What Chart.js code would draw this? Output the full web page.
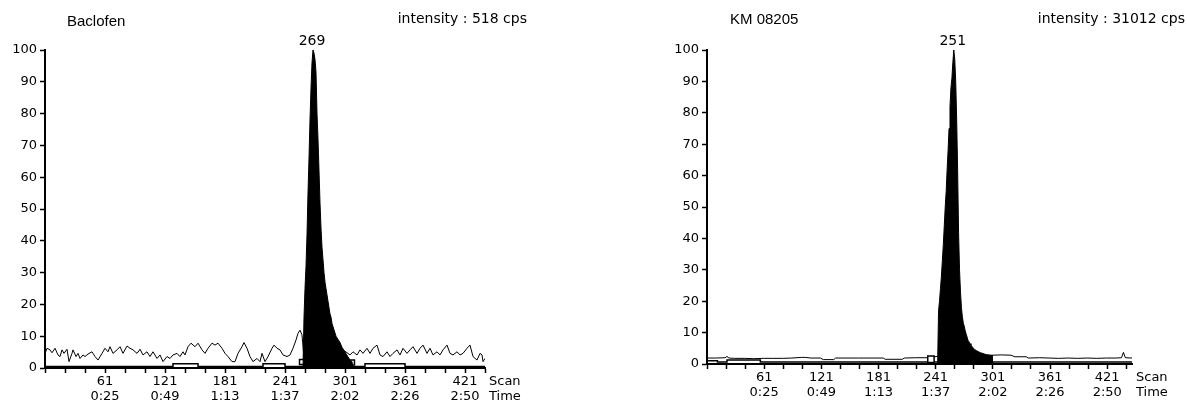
<!DOCTYPE html>
<html>
<head>
<meta charset="utf-8">
<script src="https://cdn.jsdelivr.net/npm/chart.js@4/dist/chart.umd.min.js"></script>
<style>
  body { margin: 0; background: #fff; }
  canvas { position: absolute; top: 0; }
  #bac { left: 0; }
  #km { left: 620px; }
</style>
</head>
<body>
<canvas id="bac" width="560" height="403"></canvas>
<canvas id="km" width="567" height="403"></canvas>
<script>
// x axis labels (scan number and retention time)
const tickScans = [61, 121, 181, 241, 301, 361, 421];
const tickTimes = ['0:25', '0:49', '1:13', '1:37', '2:02', '2:26', '2:50'];

// Baclofen - noisy trace
const bacNoiseScan = [1, 3, 6, 8, 11, 14, 16, 18, 20, 23, 25, 28, 29, 32, 34, 36, 39, 41, 44, 48, 49, 51, 54, 58, 61, 64, 66, 69, 73, 76, 79, 83, 86, 89, 93, 96, 99, 103, 106, 109, 113, 116, 119, 123, 126, 129, 133, 136, 139, 141, 144, 147, 151, 154, 158, 161, 164, 168, 171, 174, 178, 181, 184, 188, 191, 194, 198, 200, 203, 206, 209, 213, 216, 218, 221, 224, 228, 230, 233, 236, 239, 243, 246, 249, 252, 254, 256, 258, 260, 270, 280, 290, 300, 306, 309, 313, 316, 319, 323, 326, 329, 333, 336, 339, 343, 346, 349, 353, 356, 359, 363, 366, 369, 373, 376, 379, 383, 386, 389, 393, 396, 399, 403, 406, 409, 413, 416, 419, 423, 426, 429, 433, 436, 438, 439, 441];
const bacNoiseVal = [4.6, 6.2, 5.7, 4.8, 6.2, 4.1, 3.6, 5.7, 4.6, 5.9, 2.0, 4.6, 5.7, 3.6, 4.6, 3.0, 4.1, 3.6, 4.4, 5.1, 4.6, 3.6, 2.5, 4.6, 6.2, 5.1, 6.7, 4.6, 5.7, 6.7, 4.6, 6.9, 6.2, 5.7, 4.6, 5.9, 4.1, 5.1, 3.6, 5.1, 3.0, 4.1, 2.0, 3.6, 3.0, 4.1, 4.6, 3.6, 5.1, 4.1, 6.7, 7.8, 6.7, 7.8, 5.7, 4.6, 6.2, 7.8, 7.2, 7.8, 6.2, 4.6, 3.6, 2.0, 2.0, 4.6, 6.7, 8.0, 6.2, 3.6, 2.0, 3.0, 2.0, 4.6, 2.0, 3.6, 6.2, 7.2, 6.2, 5.7, 4.1, 3.6, 4.1, 6.2, 8.8, 10.9, 11.9, 10.4, 3.0, 4.0, 5.0, 5.0, 5.5, 4.1, 5.1, 4.1, 5.7, 4.6, 6.2, 4.6, 6.2, 7.2, 4.1, 3.6, 5.1, 3.6, 4.6, 5.7, 4.1, 6.2, 4.6, 5.7, 6.7, 4.6, 6.2, 7.2, 4.6, 6.2, 4.1, 5.1, 4.1, 5.7, 7.2, 4.6, 4.1, 5.1, 4.1, 4.6, 6.2, 7.2, 3.6, 2.5, 4.6, 4.1, 2.0, 3.0];

// Baclofen - integrated peak
const bacPeakScan = [259, 260, 261, 262, 263, 264, 265, 266, 267, 268, 269, 270, 271, 272, 273, 274, 275, 276, 277, 278, 279, 280, 281, 282, 283, 284, 285, 286, 287, 288, 289, 290, 292, 294, 296, 298, 300, 302, 304, 306, 308, 309];
const bacPeakVal = [0, 16, 25, 32, 42, 55, 66, 78, 88, 96, 100, 99, 97, 93, 80, 72, 62, 52, 44, 38, 34, 30, 27, 25, 23, 21, 19, 17, 16, 14, 13, 12, 10, 9, 8, 6.5, 5.5, 4.5, 3.5, 2.5, 2, 0];

// Baclofen - baseline and integration marks
const bacBaseScan = [1, 129, 129, 154, 154, 219, 219, 241, 241, 321, 321, 361, 361, 441];
const bacBaseVal = [0.5, 0.5, 1.3, 1.3, 0.5, 0.5, 1.3, 1.3, 0.5, 0.5, 1.3, 1.3, 0.5, 0.5];
const bacMarkScan = [258, 308];
const bacMarkVal = [1.9, 1.7];

// KM 08205 - flat trace
const kmNoiseScan = [1, 10, 20, 22, 24, 30, 40, 50, 60, 70, 80, 90, 100, 104, 110, 120, 123, 134, 136, 150, 160, 170, 186, 188, 206, 208, 220, 232, 240, 244, 300, 310, 320, 324, 336, 338, 350, 360, 370, 380, 390, 400, 410, 420, 430, 436, 438, 440, 447];
const kmNoiseVal = [1.9, 1.9, 2.0, 2.4, 1.9, 1.8, 1.8, 1.7, 1.8, 1.8, 1.8, 1.9, 2.1, 2.1, 1.9, 1.9, 1.4, 1.4, 1.9, 1.9, 1.9, 1.9, 1.9, 1.5, 1.5, 1.9, 2.0, 2.0, 2.3, 2.5, 2.8, 2.9, 2.8, 2.3, 2.3, 1.9, 2.0, 1.9, 1.8, 1.9, 1.8, 1.9, 1.8, 1.9, 1.9, 2.0, 3.7, 2.0, 1.9];

// KM 08205 - integrated peak
const kmPeakScan = [243, 244, 245, 246, 247, 248, 249, 250, 251, 252, 253, 254, 255, 256, 257, 258, 259, 260, 261, 262, 263, 264, 265, 266, 267, 268, 269, 270, 271, 272, 273, 274, 275, 276, 277, 278, 280, 282, 284, 286, 288, 290, 292, 294, 296, 298, 300, 301];
const kmPeakVal = [0, 17, 20, 24, 28, 33, 38, 44, 50, 55, 62, 68, 75, 82, 88, 91, 96, 100, 97, 90, 78, 62, 42, 30, 23, 18, 15, 13, 12, 10.5, 9.5, 8.5, 7.5, 7, 6.5, 6, 5.2, 4.6, 4.2, 3.9, 3.6, 3.4, 3.2, 3, 2.9, 2.8, 2.7, 0];

// KM 08205 - baseline and integration marks
const kmBaseScan = [1, 12, 12, 22, 22, 57, 57, 447];
const kmBaseVal = [1.0, 1.0, 0.6, 0.6, 1.3, 1.3, 0.6, 0.6];
const kmMarkScan = [236, 297];
const kmMarkVal = [1.5, 1.5];

function pts(xs, ys) {
    return xs.map((x, i) => ({ x: x, y: ys[i] }));
}

const textPlugin = {
    id: 'texts',
    afterDatasetsDraw(chart, args, opts) {
        const ctx = chart.ctx;
        const area = chart.chartArea;
        ctx.save();
        ctx.fillStyle = '#000';
        ctx.textBaseline = 'middle';

        ctx.font = '15px "Liberation Sans", Arial, sans-serif';
        ctx.textAlign = 'left';
        ctx.fillText(opts.title, opts.titleX, opts.titleY);

        ctx.font = '14px "DejaVu Sans", sans-serif';
        ctx.textAlign = 'right';
        ctx.fillText(opts.intensity, opts.intX, opts.intY);

        // label over the peak apex
        const meta = chart.getDatasetMeta(0);
        let top = meta.data[0];
        meta.data.forEach(p => { if (p.y < top.y) top = p; });
        ctx.textAlign = 'center';
        ctx.textBaseline = 'bottom';
        ctx.fillText(opts.peakLabel, top.x - 1, top.y - 2);

        ctx.font = '13px "DejaVu Sans", sans-serif';
        ctx.textAlign = 'left';
        ctx.textBaseline = 'middle';
        ctx.fillText('Scan', area.right + 4, area.bottom + 14);
        ctx.fillText('Time', area.right + 4, area.bottom + 29);
        ctx.restore();
    }
};

function makeChart(id, d) {
    const ctx = document.getElementById(id).getContext('2d');
    return new Chart(ctx, {
        type: 'line',
        data: {
            datasets: [{
                data: pts(d.peakScan, d.peakVal),
                borderColor: '#000',
                backgroundColor: '#000',
                borderWidth: 1,
                fill: 'origin',
                pointRadius: 0,
                tension: 0
            }, {
                data: pts(d.markScan, d.markVal),
                showLine: false,
                pointStyle: 'rect',
                pointRadius: d.markSize,
                pointBorderColor: '#000',
                pointBackgroundColor: '#fff',
                pointBorderWidth: 1.5
            }, {
                data: pts(d.noiseScan, d.noiseVal),
                borderColor: '#000',
                borderWidth: 1,
                fill: false,
                pointRadius: 0,
                tension: 0
            }, {
                data: pts(d.baseScan, d.baseVal),
                borderColor: '#000',
                borderWidth: 1.5,
                fill: false,
                pointRadius: 0,
                tension: 0
            }]
        },
        options: {
            responsive: false,
            animation: false,
            devicePixelRatio: 1,
            layout: { padding: { left: 0, right: d.padRight, top: 50, bottom: 0 } },
            plugins: {
                legend: { display: false },
                tooltip: { enabled: false },
                texts: {
                    title: d.title, titleX: d.titleX, titleY: d.titleY,
                    intensity: d.intensity, intX: d.intX, intY: 19,
                    peakLabel: d.peakLabel
                }
            },
            scales: {
                x: {
                    type: 'linear',
                    min: 1,
                    max: d.maxScan,
                    afterBuildTicks: scale => {
                        const t = [];
                        for (let s = 1; s <= 441; s += 20) t.push({ value: s });
                        scale.ticks = t;
                    },
                    afterFit: scale => { scale.height = d.xHeight; },
                    ticks: {
                        autoSkip: false,
                        maxRotation: 0,
                        padding: 1.5,
                        color: '#000',
                        font: { family: '"DejaVu Sans", sans-serif', size: 13, lineHeight: '15px' },
                        callback: v => {
                            const i = tickScans.indexOf(v);
                            return i >= 0 ? [String(v), tickTimes[i]] : '';
                        }
                    },
                    grid: { drawOnChartArea: false, tickLength: 5, tickColor: '#000', tickWidth: 1.5 },
                    border: { display: true, color: '#000', width: 2 }
                },
                y: {
                    min: 0,
                    max: 100,
                    afterFit: scale => { scale.width = d.yWidth; },
                    ticks: {
                        stepSize: 10,
                        padding: 3,
                        color: '#000',
                        font: { family: '"DejaVu Sans", sans-serif', size: 13 }
                    },
                    grid: { drawOnChartArea: false, tickLength: 5, tickColor: '#000', tickWidth: 1.5 },
                    border: { display: true, color: '#000', width: 2 }
                }
            }
        },
        plugins: [textPlugin]
    });
}

makeChart('bac', {
    peakScan: bacPeakScan, peakVal: bacPeakVal,
    noiseScan: bacNoiseScan, noiseVal: bacNoiseVal,
    baseScan: bacBaseScan, baseVal: bacBaseVal,
    markScan: bacMarkScan, markVal: bacMarkVal, markSize: 3.5,
    maxScan: 441, padRight: 75, yWidth: 45, xHeight: 35,
    title: 'Baclofen', titleX: 67, titleY: 22,
    intensity: 'intensity : 518 cps', intX: 527,
    peakLabel: '269'
});

makeChart('km', {
    peakScan: kmPeakScan, peakVal: kmPeakVal,
    noiseScan: kmNoiseScan, noiseVal: kmNoiseVal,
    baseScan: kmBaseScan, baseVal: kmBaseVal,
    markScan: kmMarkScan, markVal: kmMarkVal, markSize: 4.5,
    maxScan: 447, padRight: 55, yWidth: 87, xHeight: 39,
    title: 'KM 08205', titleX: 110, titleY: 20,
    intensity: 'intensity : 31012 cps', intX: 565,
    peakLabel: '251'
});
</script>
</body>
</html>
